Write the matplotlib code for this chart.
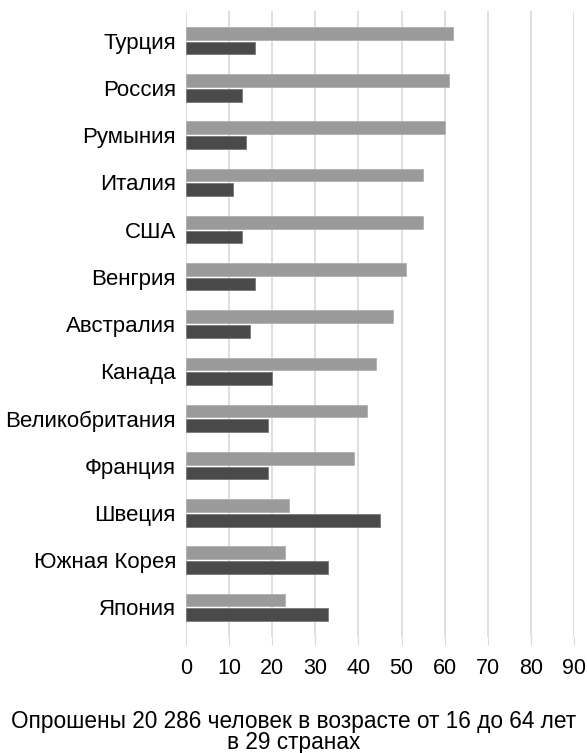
import matplotlib.pyplot as plt
import numpy as np

plt.rcParams['font.family'] = ['Liberation Sans', 'DejaVu Sans']

countries = ['Турция', 'Россия', 'Румыния', 'Италия', 'США', 'Венгрия',
             'Австралия', 'Канада', 'Великобритания', 'Франция', 'Швеция',
             'Южная Корея', 'Япония']
light_vals = [62, 61, 60, 55, 55, 51, 48, 44, 42, 39, 24, 23, 23]
dark_vals = [16, 13, 14, 11, 13, 16, 15, 20, 19, 19, 45, 33, 33]
xticks = [0, 10, 20, 30, 40, 50, 60, 70, 80, 90]
caption = 'Опрошены 20 286 человек в возрасте от 16 до 64 лет\nв 29 странах'

fig = plt.figure(figsize=(5.87, 7.53), dpi=100)
ax = fig.add_axes([185.7 / 587, 1 - 637 / 753, (574.3 - 185.7) / 587, (637 - 11) / 753])

y = np.arange(len(countries))
h = 0.27
off = 0.155
ax.barh(y - off, light_vals, height=h, color='#9a9a9a', edgecolor='#b0b0b0', linewidth=0.6, zorder=3)
ax.barh(y + off, dark_vals, height=h, color='#4a4a4a', edgecolor='#7a7a7a', linewidth=0.6, zorder=3)

ax.set_xlim(0, 90)
ax.set_ylim(len(countries) - 0.37, -0.63)
ax.set_yticks(y)
ax.set_yticklabels(countries, fontsize=16)
ax.set_xticks(xticks)
ax.set_xticklabels([str(t) for t in xticks], fontsize=15.5)
ax.tick_params(axis='y', length=0, pad=7)
ax.tick_params(axis='x', length=6, color='#d9d9d9', pad=9)
ax.xaxis.grid(True, color='#d9d9d9', linewidth=1.2, zorder=0)
for s in ax.spines.values():
    s.set_visible(False)

fig.text(0.5, 1 - 732 / 753, caption, ha='center', va='center', fontsize=16.3, linespacing=0.93)

fig.savefig('out.png', dpi=100)
